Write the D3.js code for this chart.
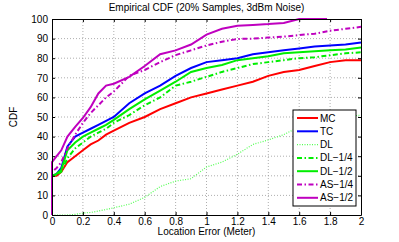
<!DOCTYPE html>
<html>
<head>
<meta charset="utf-8">
<script src="https://cdn.jsdelivr.net/npm/d3@7"></script>
<style>
  body { margin: 0; background: #fff; }
  text { font-family: "Liberation Sans", Arial, sans-serif; }
</style>
</head>
<body>
<div id="chart"></div>
<script>
// location error grid (meter)
var errX = [0, 0, 0.03, 0.06, 0.1, 0.15, 0.2, 0.25, 0.3, 0.35, 0.4, 0.5, 0.6, 0.7, 0.8, 0.9, 1.0, 1.1, 1.2, 1.3, 1.4, 1.5, 1.6, 1.7, 1.8, 1.9, 2.0];

var mcCdf    = [0, 20, 20, 22, 27, 30, 33, 36, 38, 41, 43, 47, 50, 54, 57, 60, 62, 64, 66, 68, 71, 73, 74, 76, 78, 79, 79];
var tcCdf    = [0, 20, 21, 24, 35, 40, 42, 44, 46, 48, 50, 57, 62, 66, 71, 75, 78, 79, 80, 82, 83, 84, 85, 86, 86.5, 87, 88];
var dlCdf    = [0, 0, 0, 0, 0, 0.3, 1, 1.3, 2, 2.8, 3.7, 5.5, 9, 14.5, 17.3, 18.5, 24.5, 27, 31, 36, 38.3, 41, 45, 47, 48.5, 50, 51];
var dlQCdf   = [0, 20, 20.5, 22, 29, 34, 37, 40, 42, 44, 47, 51, 56, 60, 66, 68, 70.5, 73, 75, 77, 78, 79, 80, 80.5, 81.5, 82.5, 83];
var dlHCdf   = [0, 20, 21, 23, 33, 37, 40, 42, 44, 46, 48.5, 54, 59, 63.5, 68, 73, 75, 76.5, 79, 80, 81, 82.5, 83, 83.5, 84, 84.5, 85.5];
var asQCdf   = [0, 22, 24, 27, 34, 41, 47, 52, 56, 60, 63, 71, 74, 78, 81.6, 84, 86.5, 88.4, 89.8, 90, 90.5, 91, 91.8, 92.5, 94, 95, 96];
var asHX     = [0, 0, 0.03, 0.06, 0.1, 0.15, 0.2, 0.25, 0.3, 0.35, 0.4, 0.5, 0.6, 0.7, 0.8, 0.9, 1.0, 1.1, 1.2, 1.3, 1.4, 1.5, 1.6, 1.7, 1.78];
var asHCdf   = [0, 27, 30, 33, 40, 45, 49.5, 55, 62, 66, 67, 70.5, 76, 82, 84, 87, 92, 95, 96.5, 97, 97.4, 98, 100, 100, 100];

var xTicks = [0, 0.2, 0.4, 0.6, 0.8, 1, 1.2, 1.4, 1.6, 1.8, 2];
var yTicks = [0, 10, 20, 30, 40, 50, 60, 70, 80, 90, 100];

var series = [
  { name: "MC",     x: errX, y: mcCdf,  color: "#ff0000", width: 2,   dash: null },
  { name: "TC",     x: errX, y: tcCdf,  color: "#0000ff", width: 2,   dash: null },
  { name: "DL",     x: errX, y: dlCdf,  color: "#55ff55", width: 1.2, dash: "1,1.5" },
  { name: "DL\u22121/4", x: errX, y: dlQCdf, color: "#00ee00", width: 2, dash: "5,2.5,1.5,2.5" },
  { name: "DL\u22121/2", x: errX, y: dlHCdf, color: "#00ee00", width: 2, dash: null },
  { name: "AS\u22121/4", x: errX, y: asQCdf, color: "#bf00bf", width: 2, dash: "5,2.5,1.5,2.5" },
  { name: "AS\u22121/2", x: asHX,  y: asHCdf, color: "#bf00bf", width: 2, dash: null }
];

var W = 399, H = 242;
var margin = { top: 19, right: 38, bottom: 27, left: 52 },
  width = W - margin.left - margin.right,
  height = H - margin.top - margin.bottom;

var root = d3.select("#chart")
  .append("svg")
  .attr("width", W)
  .attr("height", H);

var svg = root.append("g")
  .attr("transform", "translate(" + margin.left + "," + margin.top + ")");

var x = d3.scaleLinear().domain([0, 2]).range([0, width]);
var y = d3.scaleLinear().domain([0, 100]).range([height, 0]);

// grid
svg.append("g").selectAll("line").data(xTicks.slice(1, -1)).enter().append("line")
  .attr("x1", function (d) { return x(d); }).attr("x2", function (d) { return x(d); })
  .attr("y1", 0).attr("y2", height)
  .attr("stroke", "#999").attr("stroke-width", 0.8).attr("stroke-dasharray", "1,2");
svg.append("g").selectAll("line").data(yTicks.slice(1, -1)).enter().append("line")
  .attr("y1", function (d) { return y(d); }).attr("y2", function (d) { return y(d); })
  .attr("x1", 0).attr("x2", width)
  .attr("stroke", "#999").attr("stroke-width", 0.8).attr("stroke-dasharray", "1,2");

// curves
var line = d3.line()
  .x(function (d) { return x(d[0]); })
  .y(function (d) { return y(d[1]); });

series.forEach(function (s) {
  var pts = s.x.map(function (v, i) { return [v, s.y[i]]; });
  svg.append("path").datum(pts)
    .attr("fill", "none")
    .attr("stroke", s.color)
    .attr("stroke-width", s.width)
    .attr("stroke-dasharray", s.dash)
    .attr("d", line);
});

// axes (ticks inward, box)
var axB = svg.append("g").attr("transform", "translate(0," + height + ")")
  .call(d3.axisBottom(x).tickValues(xTicks).tickSizeInner(-3).tickSizeOuter(0).tickPadding(3)
    .tickFormat(function (d) { return d3.format("")(d); }));
var axL = svg.append("g")
  .call(d3.axisLeft(y).tickValues(yTicks).tickSizeInner(-3).tickSizeOuter(0).tickPadding(4));
var axT = svg.append("g")
  .call(d3.axisTop(x).tickValues(xTicks).tickSizeInner(-3).tickSizeOuter(0).tickFormat(""));
var axR = svg.append("g").attr("transform", "translate(" + width + ",0)")
  .call(d3.axisRight(y).tickValues(yTicks).tickSizeInner(-3).tickSizeOuter(0).tickFormat(""));

[axB, axL, axT, axR].forEach(function (a) {
  a.selectAll("text").style("font-size", "10px").attr("fill", "#000");
  a.selectAll("line").attr("stroke", "#000");
  a.select(".domain").attr("stroke", "#000");
});
axB.selectAll("text").attr("dy", "0.71em");

// labels
root.append("text")
  .text("Empirical CDF (20% Samples, 3dBm Noise)")
  .attr("x", margin.left + width / 2).attr("y", 11)
  .attr("text-anchor", "middle").style("font-size", "10px");
root.append("text")
  .text("Location Error (Meter)")
  .attr("x", margin.left + width / 2).attr("y", 235)
  .attr("text-anchor", "middle").style("font-size", "10px");
root.append("text")
  .text("CDF")
  .attr("transform", "translate(17," + (margin.top + height / 2) + ") rotate(-90)")
  .attr("text-anchor", "middle").style("font-size", "10px");

// legend
var lg = root.append("g").attr("transform", "translate(293,110)");
lg.append("rect").attr("width", 63).attr("height", 96)
  .attr("fill", "#fff").attr("stroke", "#000").attr("stroke-width", 1);
var rows = lg.selectAll("g.row").data(series).enter().append("g")
  .attr("transform", function (d, i) { return "translate(0," + (8 + i * 13.3) + ")"; });
rows.append("line")
  .attr("x1", 4).attr("x2", 25).attr("y1", 0).attr("y2", 0)
  .attr("stroke", function (d) { return d.color; })
  .attr("stroke-width", function (d) { return d.width; })
  .attr("stroke-dasharray", function (d) { return d.dash; });
rows.append("text")
  .text(function (d) { return d.name; })
  .attr("x", 27).attr("dy", "0.35em")
  .style("font-size", "10px");
</script>
</body>
</html>
